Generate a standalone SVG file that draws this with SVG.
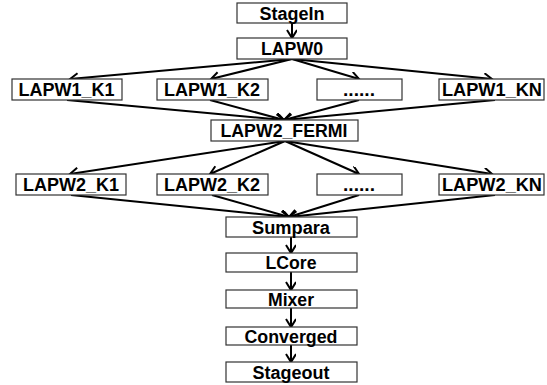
<svg xmlns="http://www.w3.org/2000/svg" width="547" height="385" viewBox="0 0 547 385">
<style>
.box{fill:#fff;stroke:#333;stroke-width:1.2}
.t{font-family:"Liberation Sans",Arial,sans-serif;font-weight:bold;font-size:17.5px;fill:#000;text-anchor:middle}
.e{stroke:#000;stroke-width:2;fill:none;marker-end:url(#a)}
</style>
<defs>
<marker id="a" markerUnits="userSpaceOnUse" markerWidth="12" markerHeight="12" refX="9" refY="5" orient="auto">
<path d="M1,0 L9,5 L1,10" fill="none" stroke="#000" stroke-width="2"/>
</marker>
</defs>
<rect width="547" height="385" fill="#fff"/>
<g id="connectors">
<line class="e" x1="292" y1="23" x2="292" y2="38"/>
<line class="e" x1="292" y1="59" x2="70" y2="79"/>
<line class="e" x1="292" y1="59" x2="211" y2="79"/>
<line class="e" x1="292" y1="59" x2="359" y2="79"/>
<line class="e" x1="292" y1="59" x2="492" y2="79"/>
<line class="e" x1="67" y1="100" x2="284" y2="120"/>
<line class="e" x1="210" y1="100" x2="284" y2="120"/>
<line class="e" x1="359" y1="100" x2="284" y2="120"/>
<line class="e" x1="495" y1="100" x2="284" y2="120"/>
<line class="e" x1="285" y1="141" x2="70" y2="174"/>
<line class="e" x1="285" y1="141" x2="210" y2="174"/>
<line class="e" x1="285" y1="141" x2="359" y2="174"/>
<line class="e" x1="285" y1="141" x2="492" y2="174"/>
<line class="e" x1="71" y1="195" x2="289" y2="217"/>
<line class="e" x1="212" y1="195" x2="289" y2="217"/>
<line class="e" x1="359" y1="195" x2="289" y2="217"/>
<line class="e" x1="495" y1="195" x2="289" y2="217"/>
<line class="e" x1="291" y1="237" x2="291" y2="253"/>
<line class="e" x1="291" y1="272" x2="291" y2="290"/>
<line class="e" x1="291" y1="308" x2="291" y2="327"/>
<line class="e" x1="291" y1="345" x2="291" y2="362"/>
</g>
<g id="stagein"><rect class="box" x="237" y="3" width="110" height="20"/><text class="t" x="292" y="19.5" textLength="65" lengthAdjust="spacingAndGlyphs">StageIn</text></g>
<g id="lapw0"><rect class="box" x="237" y="38" width="110" height="21"/><text class="t" x="292" y="55" textLength="62" lengthAdjust="spacingAndGlyphs">LAPW0</text></g>
<g id="lapw1_k1"><rect class="box" x="12" y="79" width="110" height="21"/><text class="t" x="66.5" y="96" textLength="96" lengthAdjust="spacingAndGlyphs">LAPW1_K1</text></g>
<g id="lapw1_k2"><rect class="box" x="157" y="79" width="111" height="21"/><text class="t" x="212" y="96" textLength="96" lengthAdjust="spacingAndGlyphs">LAPW1_K2</text></g>
<g id="lapw1_dots"><rect class="box" x="317" y="79" width="85" height="21"/><text class="t" x="359" y="96" textLength="32" lengthAdjust="spacingAndGlyphs">......</text></g>
<g id="lapw1_kn"><rect class="box" x="439" y="79" width="105" height="21"/><text class="t" x="492" y="96" textLength="100" lengthAdjust="spacingAndGlyphs">LAPW1_KN</text></g>
<g id="lapw2_fermi"><rect class="box" x="211" y="120" width="147" height="21"/><text class="t" x="284" y="137" textLength="127" lengthAdjust="spacingAndGlyphs">LAPW2_FERMI</text></g>
<g id="lapw2_k1"><rect class="box" x="16" y="174" width="110" height="21"/><text class="t" x="71" y="191" textLength="96" lengthAdjust="spacingAndGlyphs">LAPW2_K1</text></g>
<g id="lapw2_k2"><rect class="box" x="157" y="174" width="111" height="21"/><text class="t" x="212" y="191" textLength="96" lengthAdjust="spacingAndGlyphs">LAPW2_K2</text></g>
<g id="lapw2_dots"><rect class="box" x="317" y="174" width="85" height="21"/><text class="t" x="359" y="191" textLength="32" lengthAdjust="spacingAndGlyphs">......</text></g>
<g id="lapw2_kn"><rect class="box" x="439" y="174" width="105" height="21"/><text class="t" x="492" y="191" textLength="100" lengthAdjust="spacingAndGlyphs">LAPW2_KN</text></g>
<g id="sumpara"><rect class="box" x="226" y="217" width="131" height="20"/><text class="t" x="291" y="233.5" textLength="78" lengthAdjust="spacingAndGlyphs">Sumpara</text></g>
<g id="lcore"><rect class="box" x="226" y="253" width="131" height="19"/><text class="t" x="291" y="268.5" textLength="51" lengthAdjust="spacingAndGlyphs">LCore</text></g>
<g id="mixer"><rect class="box" x="226" y="290" width="131" height="18"/><text class="t" x="291" y="305.5" textLength="46" lengthAdjust="spacingAndGlyphs">Mixer</text></g>
<g id="converged"><rect class="box" x="226" y="327" width="131" height="18"/><text class="t" x="291" y="342.5" textLength="93" lengthAdjust="spacingAndGlyphs">Converged</text></g>
<g id="stageout"><rect class="box" x="226" y="362" width="131" height="20"/><text class="t" x="291" y="378.5" textLength="77" lengthAdjust="spacingAndGlyphs">Stageout</text></g>
</svg>
